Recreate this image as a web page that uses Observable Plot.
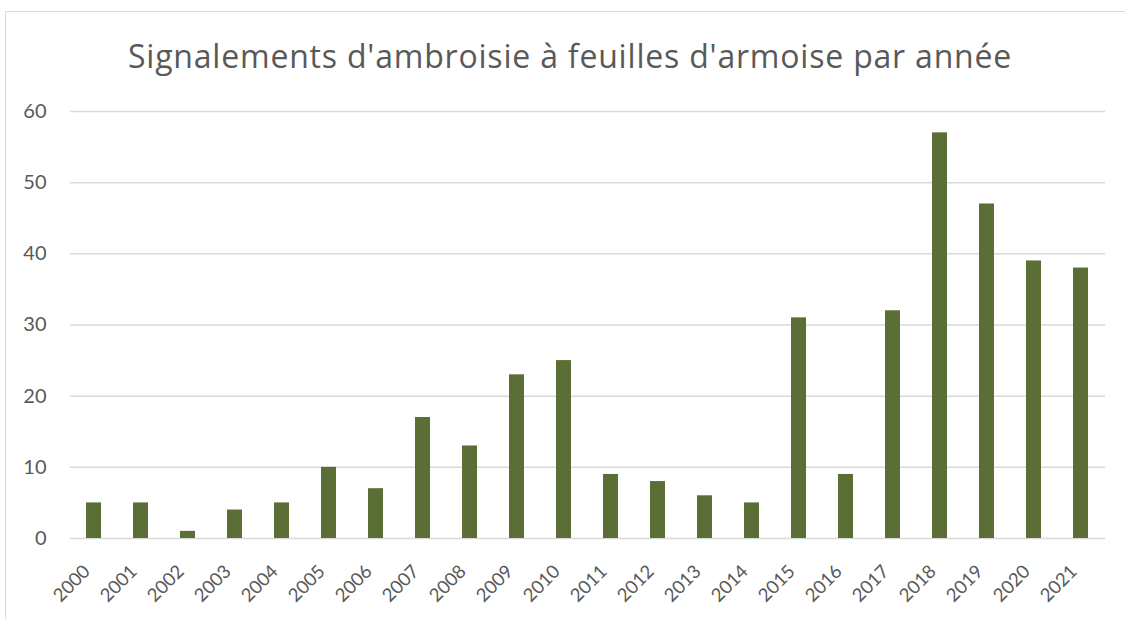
<!DOCTYPE html>
<html>
<head>
<meta charset="utf-8">
<script src="https://cdn.jsdelivr.net/npm/d3@7"></script>
<script src="https://cdn.jsdelivr.net/npm/@observablehq/plot@0.6"></script>
<style>
  html, body { margin: 0; padding: 0; background: #fff; }
  #wrap { position: relative; width: 1125px; height: 619px; overflow: hidden; font-family: Lato, "Noto Sans", sans-serif; }
  #frame { position: absolute; left: 5px; top: 11px; width: 1130px; height: 620px; border: 1px solid #d9d9d9; box-sizing: border-box; }
  #title { position: absolute; left: 0; top: 36px; width: 1140px; text-align: center; font-family: "Open Sans", Lato, sans-serif; font-size: 32px; letter-spacing: 0.8px; color: #595959; line-height: 40px; }
  #chart { position: absolute; left: 0; top: 90px; }
</style>
</head>
<body>
<div id="wrap">
  <div id="frame"></div>
  <div id="title">Signalements d'ambroisie à feuilles d'armoise par année</div>
  <div id="chart"></div>
</div>
<script>
const years = ["2000","2001","2002","2003","2004","2005","2006","2007","2008","2009","2010","2011","2012","2013","2014","2015","2016","2017","2018","2019","2020","2021"];
const counts = [5,5,1,4,5,10,7,17,13,23,25,9,8,6,5,31,9,32,57,47,39,38];
const yTicks = [0,10,20,30,40,50,60];

const data = years.map((y, i) => ({year: y, count: counts[i]}));

const chart = Plot.plot({
  width: 1125,
  height: 529,
  marginTop: 21,
  marginBottom: 81,
  marginLeft: 70,
  marginRight: 20,
  style: {fontFamily: "Lato, 'Noto Sans', sans-serif", fontSize: "19px", color: "#595959", background: "transparent"},
  x: {domain: years, paddingInner: 0.68, paddingOuter: 0.34, label: null},
  y: {domain: [0, 60], label: null},
  marks: [
    Plot.ruleY(yTicks, {stroke: "#d9d9d9", strokeWidth: 1.5}),
    Plot.barY(data, {x: "year", y: "count", fill: "#5a6e35"}),
    Plot.axisY({ticks: yTicks, tickSize: 0, tickPadding: 24, fontSize: 20, label: null}),
    Plot.axisX({tickSize: 0, tickRotate: -45, tickPadding: 8, fontSize: 18.5, dy: 22, dx: -7, label: null})
  ]
});
document.getElementById("chart").appendChild(chart);
</script>
</body>
</html>
